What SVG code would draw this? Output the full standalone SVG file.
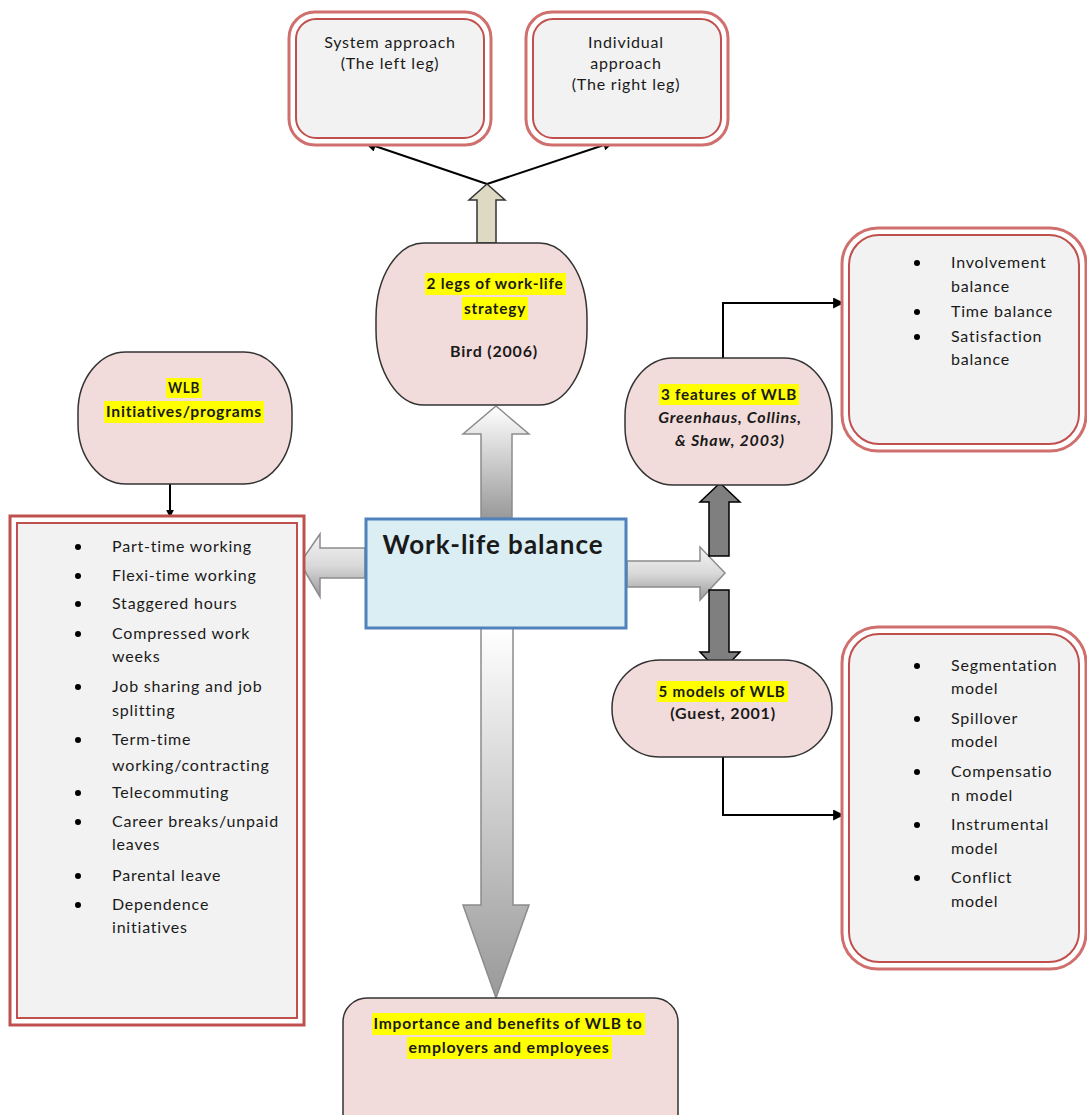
<svg xmlns="http://www.w3.org/2000/svg" width="1087" height="1115" viewBox="0 0 1087 1115">
<defs>
<linearGradient id="gv" x1="0" y1="0" x2="0" y2="1"><stop offset="0" stop-color="#ffffff"/><stop offset="1" stop-color="#999999"/></linearGradient>
<linearGradient id="gh" x1="0" y1="0" x2="0" y2="1"><stop offset="0" stop-color="#f4f4f4"/><stop offset="0.5" stop-color="#d9d9d9"/><stop offset="1" stop-color="#9a9a9a"/></linearGradient>
<marker id="ah" viewBox="0 0 10 10" refX="9" refY="5" markerWidth="8" markerHeight="8" markerUnits="userSpaceOnUse" orient="auto"><path d="M0,0 L10,5 L0,10 z" fill="#000"/></marker>
<marker id="ah2" viewBox="0 0 10 10" refX="9" refY="5" markerWidth="13" markerHeight="11" markerUnits="userSpaceOnUse" orient="auto"><path d="M0,0 L10,5 L0,10 z" fill="#000"/></marker>
</defs>
<style>
text{font-family:Lato,"Liberation Sans",sans-serif;fill:#1a1a1a;font-size:16px;letter-spacing:0.8px}
.c{text-anchor:middle}
.b{font-weight:bold}
.i{font-style:italic}
.hl{fill:#ffff00}
.pink{fill:#f2dcdb;stroke:#333;stroke-width:1.5}
.ro{fill:#fff;stroke:#d0706e;stroke-width:3}
.ri{fill:#f2f2f2;stroke:#c0504d;stroke-width:2}
.con{fill:none;stroke:#000;stroke-width:2}
.dk{fill:#7f7f7f;stroke:#000;stroke-width:1.5}
.gr{stroke:#8c8c8c;stroke-width:1.5}
</style>

<g id="connectors">
<line class="con" x1="487" y1="184" x2="366" y2="143" marker-end="url(#ah2)"/>
<line class="con" x1="487" y1="184" x2="613" y2="142" marker-end="url(#ah2)"/>
<path d="M477,243 V200 H469 L487,184 L505,200 H496 V243 Z" fill="#ddd9c3" stroke="#333" stroke-width="1.5"/>
<path d="M481,518 V434 H463 L496,406 L529,434 H512 V518 Z" fill="url(#gv)" class="gr"/>
<path d="M481,628 V905 H463 L496,998 L529,905 H513 V628 Z" fill="url(#gv)" class="gr"/>
<path d="M365,548 H320 V534 L300,563 L320,597 V578 H365 Z" fill="url(#gh)" class="gr"/>
<path d="M627,561 H700 V547 L725,573 L700,600 V587 H627 Z" fill="url(#gh)" class="gr"/>
<path class="dk" d="M709,556 V502 H700 L720,483 L740,502 H729 V556 Z"/>
<path class="dk" d="M709,590 V652 H700 L720,673 L740,652 H729 V590 Z"/>
<line class="con" x1="170" y1="484" x2="170" y2="517" marker-end="url(#ah)"/>
<polyline class="con" points="723,358 723,303 843,303" marker-end="url(#ah2)"/>
<polyline class="con" points="723,757 723,815 843,815" marker-end="url(#ah2)"/>
</g>

<g id="n-system">
<rect class="ro" x="289" y="12" width="202" height="133" rx="26"/>
<rect class="ri" x="296" y="19" width="188" height="119" rx="20"/>
<text class="c" x="390" y="48">System approach</text>
<text class="c" x="390" y="69">(The left leg)</text>
</g>

<g id="n-individual">
<rect class="ro" x="526" y="12" width="202" height="133" rx="26"/>
<rect class="ri" x="533" y="19" width="188" height="119" rx="20"/>
<text class="c" x="626" y="48">Individual</text>
<text class="c" x="626" y="69">approach</text>
<text class="c" x="626" y="90">(The right leg)</text>
</g>

<g id="n-2legs">
<rect class="pink" x="376" y="243" width="211" height="162" rx="48" ry="75"/>
<rect class="hl" x="425" y="273" width="141" height="22"/>
<rect class="hl" x="462" y="297" width="66" height="23"/>
<text class="c b" x="495" y="289" textLength="137" lengthAdjust="spacingAndGlyphs">2 legs of work-life</text>
<text class="c b" x="495" y="314" textLength="62" lengthAdjust="spacingAndGlyphs">strategy</text>
<text class="c b" x="494" y="357">Bird (2006)</text>
</g>

<g id="n-initiatives">
<rect class="pink" x="78" y="352" width="214" height="132" rx="48" ry="60"/>
<rect class="hl" x="166" y="378" width="36" height="20"/>
<rect class="hl" x="104" y="401" width="160" height="22"/>
<text class="c b" x="184" y="393" textLength="32" lengthAdjust="spacingAndGlyphs">WLB</text>
<text class="c b" x="184" y="417" textLength="156" lengthAdjust="spacingAndGlyphs">Initiatives/programs</text>
</g>

<g id="n-list">
<rect x="10" y="516" width="294" height="509" fill="#fff" stroke="#c0504d" stroke-width="3"/>
<rect x="17" y="523" width="280" height="495" fill="#f2f2f2" stroke="#c0504d" stroke-width="2"/>
<g>
<circle cx="78" cy="547" r="3"/><text x="112" y="552">Part-time working</text>
<circle cx="78" cy="576" r="3"/><text x="112" y="581">Flexi-time working</text>
<circle cx="78" cy="604" r="3"/><text x="112" y="609">Staggered hours</text>
<circle cx="78" cy="634" r="3"/><text x="112" y="639">Compressed work</text><text x="112" y="662">weeks</text>
<circle cx="78" cy="687" r="3"/><text x="112" y="692">Job sharing and job</text><text x="112" y="716">splitting</text>
<circle cx="78" cy="740" r="3"/><text x="112" y="745">Term-time</text><text x="112" y="771">working/contracting</text>
<circle cx="78" cy="793" r="3"/><text x="112" y="798">Telecommuting</text>
<circle cx="78" cy="822" r="3"/><text x="112" y="827">Career breaks/unpaid</text><text x="112" y="850">leaves</text>
<circle cx="78" cy="876" r="3"/><text x="112" y="881">Parental leave</text>
<circle cx="78" cy="905" r="3"/><text x="112" y="910">Dependence</text><text x="112" y="933">initiatives</text>
</g>
</g>

<g id="n-wlb">
<rect x="366" y="519" width="260" height="109" fill="#dbeef3" stroke="#4f81bd" stroke-width="3"/>
<text x="493" y="554" class="c b" style="font-size:26px;letter-spacing:1px" fill="#111">Work-life balance</text>
</g>

<g id="n-features">
<rect class="pink" x="625" y="358" width="207" height="127" rx="48" ry="58"/>
<rect class="hl" x="659" y="384" width="140" height="21"/>
<text class="c b" x="729" y="400" textLength="136" lengthAdjust="spacingAndGlyphs">3 features of WLB</text>
<text class="c b i" x="730" y="423">Greenhaus, Collins,</text>
<text class="c b i" x="730" y="446">&amp; Shaw, 2003)</text>
</g>

<g id="n-features-list">
<rect class="ro" x="842" y="228" width="244" height="223" rx="36"/>
<rect class="ri" x="849" y="235" width="230" height="209" rx="30"/>
<circle cx="917" cy="263" r="3"/><text x="951" y="268">Involvement</text><text x="951" y="292">balance</text>
<circle cx="917" cy="312" r="3"/><text x="951" y="317">Time balance</text>
<circle cx="917" cy="337" r="3"/><text x="951" y="342">Satisfaction</text><text x="951" y="365">balance</text>
</g>

<g id="n-models">
<rect class="pink" x="612" y="660" width="220" height="97" rx="48" ry="48"/>
<rect class="hl" x="657" y="681" width="131" height="21"/>
<text class="c b" x="722" y="697" textLength="127" lengthAdjust="spacingAndGlyphs">5 models of WLB</text>
<text class="c b" x="723" y="719">(Guest, 2001)</text>
</g>

<g id="n-models-list">
<rect class="ro" x="842" y="627" width="244" height="342" rx="36"/>
<rect class="ri" x="849" y="634" width="230" height="328" rx="30"/>
<circle cx="917" cy="666" r="3"/><text x="951" y="671">Segmentation</text><text x="951" y="694">model</text>
<circle cx="917" cy="719" r="3"/><text x="951" y="724">Spillover</text><text x="951" y="747">model</text>
<circle cx="917" cy="772" r="3"/><text x="951" y="777">Compensatio</text><text x="951" y="801">n model</text>
<circle cx="917" cy="825" r="3"/><text x="951" y="830">Instrumental</text><text x="951" y="854">model</text>
<circle cx="917" cy="878" r="3"/><text x="951" y="883">Conflict</text><text x="951" y="907">model</text>
</g>

<g id="n-importance">
<rect class="pink" x="343" y="998" width="335" height="140" rx="24"/>
<rect class="hl" x="372" y="1013" width="273" height="22"/>
<rect class="hl" x="407" y="1037" width="205" height="22"/>
<text class="c b" x="508" y="1029" textLength="269" lengthAdjust="spacingAndGlyphs">Importance and benefits of WLB to</text>
<text class="c b" x="509" y="1053" textLength="201" lengthAdjust="spacingAndGlyphs">employers and employees</text>
</g>
</svg>
